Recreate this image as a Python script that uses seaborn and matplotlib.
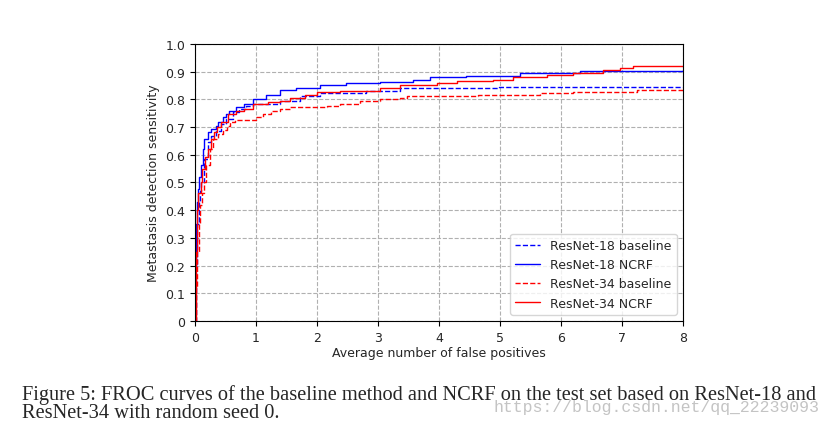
import matplotlib
matplotlib.use("Agg")
import matplotlib.pyplot as plt
import seaborn as sns

# FROC curves (x = avg false positives, y = sensitivity), step levels
r18_base_x = [0, 0.01, 0.03, 0.06, 0.08, 0.098, 0.153, 0.208, 0.262, 0.344, 0.426, 0.508, 0.617, 0.727, 0.836,
              0.96, 1.39, 1.72, 2.05, 2.81, 3.36, 4.98, 8]
r18_base_y = [0, 0.2, 0.35, 0.43, 0.47, 0.5, 0.585, 0.645, 0.669, 0.687, 0.711, 0.729, 0.753, 0.765, 0.777,
              0.783, 0.795, 0.813, 0.822, 0.831, 0.84, 0.846, 0.846]

r18_ncrf_x = [0, 0.005, 0.015, 0.03, 0.044, 0.07, 0.098, 0.126, 0.153, 0.208, 0.262, 0.344, 0.372, 0.454, 0.508,
              0.563, 0.672, 0.808, 0.96, 1.17, 1.39, 1.66, 2.05, 2.48, 3.03, 3.58, 3.85, 4.45, 5.33, 5.6, 6.31, 8]
r18_ncrf_y = [0, 0.2, 0.35, 0.43, 0.477, 0.52, 0.561, 0.621, 0.657, 0.681, 0.693, 0.705, 0.717, 0.735, 0.747,
              0.759, 0.771, 0.783, 0.80, 0.815, 0.833, 0.842, 0.85, 0.857, 0.863, 0.869, 0.88, 0.883, 0.894, 0.896,
              0.901, 0.906]

r34_base_x = [0, 0.02, 0.04, 0.06, 0.08, 0.12, 0.153, 0.18, 0.246, 0.29, 0.372, 0.454, 0.52, 0.57, 0.66, 1.0,
              1.12, 1.25, 1.39, 1.56, 2.17, 2.38, 2.70, 3.03, 3.36, 3.47, 4.64, 5.66, 6.2, 7.24, 8]
r34_base_y = [0, 0.12, 0.25, 0.35, 0.42, 0.46, 0.5, 0.561, 0.621, 0.657, 0.675, 0.69, 0.705, 0.717, 0.726, 0.737,
              0.747, 0.757, 0.765, 0.771, 0.777, 0.783, 0.792, 0.801, 0.804, 0.811, 0.816, 0.822, 0.825, 0.834, 0.834]

r34_ncrf_x = [0, 0.01, 0.03, 0.05, 0.098, 0.115, 0.16, 0.208, 0.262, 0.317, 0.37, 0.426, 0.536, 0.672, 0.808, 0.96,
              1.2, 1.39, 1.56, 1.8, 2.0, 2.38, 3.03, 3.36, 3.96, 4.29, 4.89, 5.21, 5.77, 6.2, 6.69, 6.97, 7.18, 8]
r34_ncrf_y = [0, 0.25, 0.4, 0.46, 0.5, 0.549, 0.59, 0.621, 0.657, 0.681, 0.70, 0.717, 0.747, 0.759, 0.765, 0.783,
              0.79, 0.792, 0.804, 0.815, 0.825, 0.831, 0.84, 0.852, 0.858, 0.865, 0.871, 0.879, 0.889, 0.894, 0.904,
              0.913, 0.919, 0.919]

caption_1 = "Figure 5: FROC curves of the baseline method and NCRF on the test set based on ResNet-18 and"
caption_2 = "ResNet-34 with random seed 0."
watermark = "https://blog.csdn.net/qq_22239093"

sns.set_style("ticks")
plt.rcParams["font.family"] = ["DejaVu Sans"]

fig = plt.figure(figsize=(8.33, 4.27), dpi=100)
ax = fig.add_axes([0.234, 0.246, 0.586, 0.649])

sns.lineplot(x=r18_base_x, y=r18_base_y, color="blue", linestyle="--", lw=1, drawstyle="steps-post",
             label="ResNet-18 baseline", ax=ax)
sns.lineplot(x=r18_ncrf_x, y=r18_ncrf_y, color="blue", linestyle="-", lw=1, drawstyle="steps-post",
             label="ResNet-18 NCRF", ax=ax)
sns.lineplot(x=r34_base_x, y=r34_base_y, color="red", linestyle="--", lw=1, drawstyle="steps-post",
             label="ResNet-34 baseline", ax=ax)
sns.lineplot(x=r34_ncrf_x, y=r34_ncrf_y, color="red", linestyle="-", lw=1, drawstyle="steps-post",
             label="ResNet-34 NCRF", ax=ax)

ax.set_xlim(0, 8)
ax.set_ylim(0, 1)
ax.set_xticks(range(0, 9))
ax.set_yticks([i / 10 for i in range(11)])
ax.set_yticklabels(["0"] + [f"{i / 10:.1f}" for i in range(1, 11)])
ax.grid(True, linestyle="--", color="#b0b0b0", lw=0.8)
ax.tick_params(labelsize=9, length=3.5, color="black")
for s in ax.spines.values():
    s.set_color("black")
    s.set_linewidth(0.8)
ax.set_xlabel("Average number of false positives", fontsize=9, labelpad=2)
ax.set_ylabel("Metastasis detection sensitivity", fontsize=9, labelpad=4)
ax.legend(loc="lower right", fontsize=9, frameon=True, fancybox=True, edgecolor="#cccccc")

fig.text(0.027, 0.0632, caption_1, fontsize=14.7, family="Liberation Serif", va="baseline")
fig.text(0.027, 0.0204, caption_2, fontsize=14.7, family="Liberation Serif", va="baseline")
fig.text(0.984, 0.035, watermark, fontsize=11.9, family="Liberation Mono", color="#c4c4c4",
         ha="right", va="baseline")

fig.savefig("out.png", dpi=100)
